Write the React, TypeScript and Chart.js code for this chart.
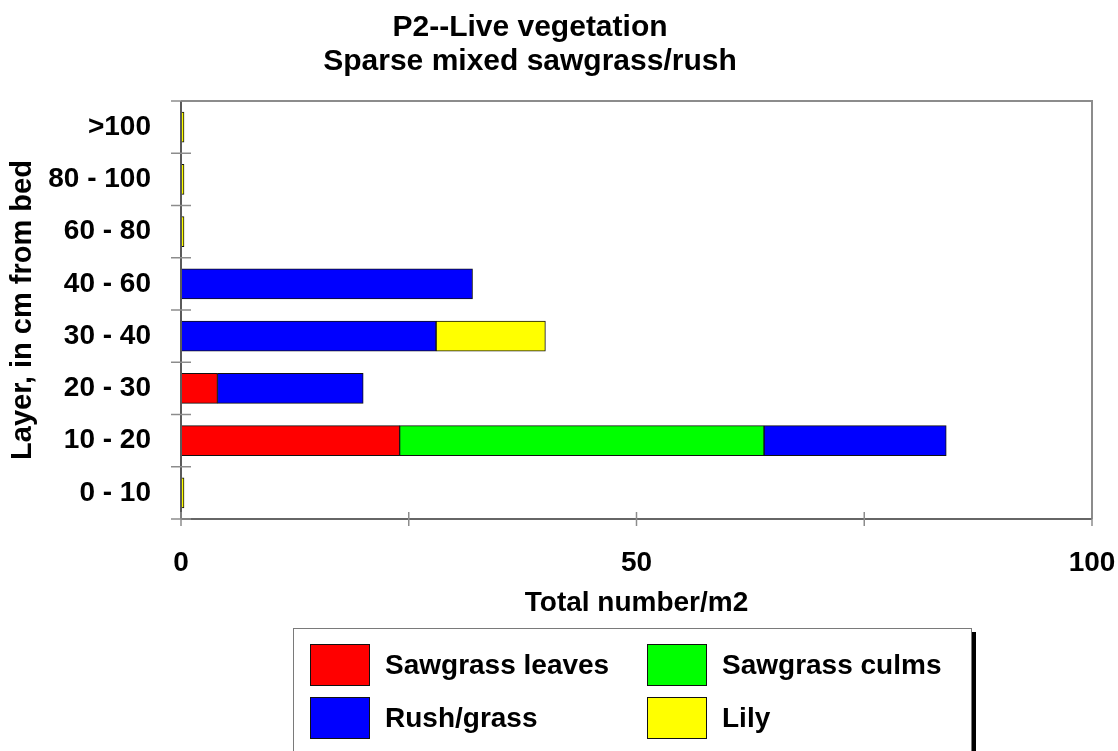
import { useEffect, useRef } from 'react';
import { Chart, registerables } from 'chart.js';

Chart.register(...registerables);

const titleLines = ['P2--Live vegetation', 'Sparse mixed sawgrass/rush'];
const layers = ['>100', '80 - 100', '60 - 80', '40 - 60', '30 - 40', '20 - 30', '10 - 20', '0 - 10'];
const sawgrassLeaves = [0, 0, 0, 0, 0, 4, 24, 0];
const sawgrassCulms = [0, 0, 0, 0, 0, 0, 40, 0];
const rushGrass = [0, 0, 0, 32, 28, 16, 20, 0];
const lily = [0, 0, 0, null, 12, null, null, 0];
const xTickValues = [0, 25, 50, 75, 100];
const xTickLabels = [0, 50, 100];
const xTitle = 'Total number/m2';
const yTitle = 'Layer, in cm from bed';

const FONT = "'Liberation Sans', Arial, Helvetica, sans-serif";

const series = [
  { label: 'Sawgrass leaves', data: sawgrassLeaves, color: '#ff0000' },
  { label: 'Sawgrass culms', data: sawgrassCulms, color: '#00ff00' },
  { label: 'Rush/grass', data: rushGrass, color: '#0000ff' },
  { label: 'Lily', data: lily, color: '#ffff00' },
];

const framePlugin = {
  id: 'frameAndTitle',
  afterDatasetsDraw(chart: any) {
    const { ctx, chartArea } = chart;
    const { left, right, top, bottom } = chartArea;
    const xs = chart.scales.x;
    const ys = chart.scales.y;
    ctx.save();
    ctx.lineWidth = 2;
    ctx.strokeStyle = '#8c8c8c';
    ctx.beginPath();
    ctx.moveTo(left, top);
    ctx.lineTo(right, top);
    ctx.lineTo(right, bottom);
    ctx.stroke();
    ctx.strokeStyle = '#5a5a5a';
    ctx.beginPath();
    ctx.moveTo(left, top);
    ctx.lineTo(left, bottom);
    ctx.stroke();
    ctx.strokeStyle = '#333333';
    ctx.lineWidth = 1.5;
    ctx.beginPath();
    ctx.moveTo(left, bottom);
    ctx.lineTo(right, bottom);
    ctx.stroke();
    ctx.strokeStyle = '#8c8c8c';
    ctx.lineWidth = 1.5;
    for (let i = 0; i <= layers.length; i++) {
      const y = ys.getPixelForValue(i - 0.5);
      ctx.beginPath();
      ctx.moveTo(left - 10, y);
      ctx.lineTo(left + 10, y);
      ctx.stroke();
    }
    for (const v of xTickValues) {
      const x = xs.getPixelForValue(v);
      ctx.beginPath();
      ctx.moveTo(x, bottom - 7);
      ctx.lineTo(x, bottom + 7);
      ctx.stroke();
    }
    ctx.fillStyle = '#000';
    ctx.font = `bold 30px ${FONT}`;
    ctx.textAlign = 'center';
    ctx.textBaseline = 'middle';
    titleLines.forEach((t, i) => ctx.fillText(t, 530, 28 + i * 34));
    ctx.restore();
  },
};

export default function App() {
  const ref = useRef<HTMLCanvasElement>(null);
  useEffect(() => {
    const font = { family: FONT, size: 28, weight: 'bold' as const, lineHeight: 1 };
    const yTitleFont = { family: FONT, size: 29, weight: 'bold' as const, lineHeight: 1 };
    const chart = new Chart(ref.current!, {
      type: 'bar',
      data: {
        labels: layers,
        datasets: series.map((s) => ({
          label: s.label,
          data: s.data as any,
          backgroundColor: s.color,
          borderColor: '#111',
          borderWidth: 1,
          borderSkipped: false,
          barThickness: 30,
          minBarLength: s.label === 'Lily' ? 3 : 0,
        })),
      },
      options: {
        indexAxis: 'y',
        animation: false,
        responsive: false,
        maintainAspectRatio: false,
        layout: { padding: { top: 101, right: 26, bottom: 132, left: 0 } },
        plugins: {
          legend: { display: false },
          title: { display: false },
          tooltip: { enabled: false },
        },
        scales: {
          x: {
            stacked: true,
            min: 0,
            max: 100,
            afterFit: (s: any) => {
              s.height = 100;
              s.paddingLeft = 0;
              s.paddingRight = 0;
            },
            afterBuildTicks: (s: any) => {
              s.ticks = xTickValues.map((v) => ({ value: v }));
            },
            ticks: {
              padding: 30,
              font,
              color: '#000',
              autoSkip: false,
              maxRotation: 0,
              callback: (v: any) => (xTickLabels.includes(Number(v)) ? String(v) : ''),
            },
            grid: { display: false, drawTicks: false },
            border: { display: false },
            title: {
              display: true,
              text: xTitle,
              font,
              color: '#000',
              padding: { top: 0, bottom: 2 },
            },
          },
          y: {
            stacked: true,
            afterFit: (s: any) => {
              s.width = 181;
            },
            ticks: { padding: 30, font, color: '#000' },
            grid: { display: false, drawTicks: false },
            border: { display: false },
            title: {
              display: true,
              text: yTitle,
              font: yTitleFont,
              color: '#000',
              padding: { top: 8, bottom: 0 },
            },
          },
        },
      },
      plugins: [framePlugin],
    });
    return () => chart.destroy();
  }, []);

  return (
    <div style={{ position: 'fixed', left: 0, top: 0, width: 1118, height: 751, overflow: 'hidden', background: '#fff' }}>
      <canvas ref={ref} width={1118} height={751} style={{ position: 'absolute', left: 0, top: 0 }} />
      <div
        style={{
          position: 'absolute',
          left: 293,
          top: 628,
          width: 677,
          height: 160,
          border: '1px solid #7a7a7a',
          boxShadow: '4px 4px 0 #000',
          background: '#fff',
          fontFamily: FONT,
          fontWeight: 'bold',
          fontSize: 28,
        }}
      >
        {series.map((s, i) => (
          <div
            key={s.label}
            style={{
              position: 'absolute',
              left: i % 2 === 0 ? 16 : 353,
              top: i < 2 ? 15 : 68,
              height: 42,
              display: 'flex',
              alignItems: 'center',
            }}
          >
            <div style={{ width: 60, height: 42, boxSizing: 'border-box', border: '1px solid #111', background: s.color }} />
            <span style={{ marginLeft: 15, lineHeight: '42px', whiteSpace: 'nowrap' }}>{s.label}</span>
          </div>
        ))}
      </div>
    </div>
  );
}
